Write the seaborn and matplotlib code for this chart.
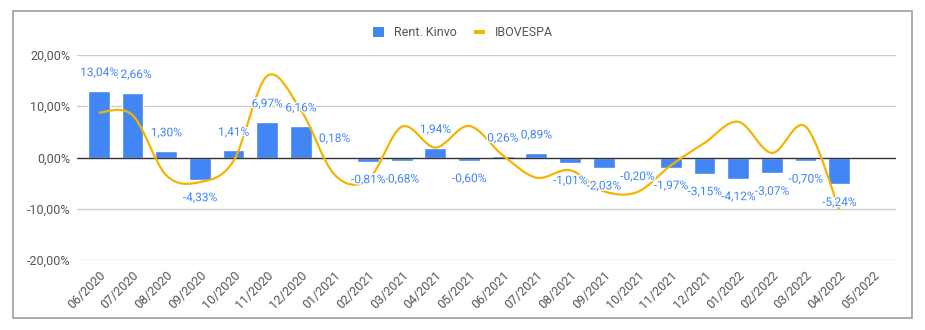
import numpy as np
import pandas as pd
import matplotlib
matplotlib.use("Agg")
import matplotlib.pyplot as plt
import seaborn as sns
from matplotlib.path import Path
from matplotlib.patches import PathPatch, Patch, Rectangle
from matplotlib.lines import Line2D
import matplotlib.patheffects as pe

months = ["06/2020", "07/2020", "08/2020", "09/2020", "10/2020", "11/2020", "12/2020",
          "01/2021", "02/2021", "03/2021", "04/2021", "05/2021", "06/2021", "07/2021",
          "08/2021", "09/2021", "10/2021", "11/2021", "12/2021", "01/2022", "02/2022",
          "03/2022", "04/2022", "05/2022"]
kinvo = [13.04, 12.66, 1.30, -4.33, 1.41, 6.97, 6.16, 0.18, -0.81, -0.68, 1.94, -0.60,
         0.26, 0.89, -1.01, -2.03, -0.20, -1.97, -3.15, -4.12, -3.07, -0.70, -5.24, np.nan]
ibovespa = [8.76, 8.27, -3.44, -4.80, -0.69, 15.90, 9.30, -3.32, -4.37, 6.00, 1.94, 6.16,
            0.46, -3.94, -2.48, -6.57, -6.74, -1.53, 2.85, 6.98, 0.89, 6.06, -10.10, np.nan]
y_ticks = [-20, -10, 0, 10, 20]

BLUE = "#4285F4"
YELLOW = "#F4B400"
GRAY_TXT = "#555555"

sns.set_theme(style="white")
plt.rcParams["font.family"] = ["Roboto", "DejaVu Sans"]

df = pd.DataFrame({"mes": months, "kinvo": kinvo, "ibov": ibovespa})

fig = plt.figure(figsize=(9.25, 3.3), dpi=100)
ax = fig.add_axes([77 / 925, 1 - 260 / 330, (896 - 77) / 925, (260 - 55) / 330])

sns.barplot(data=df, x="mes", y="kinvo", order=months, color=BLUE, saturation=1,
            width=0.65, ax=ax, zorder=2)

# smooth IBOVESPA curve through the monthly points (cubic Bezier, Catmull-Rom tangents)
pts = [(i, v) for i, v in enumerate(ibovespa) if not np.isnan(v)]
verts = [pts[0]]
codes = [Path.MOVETO]
n = len(pts)
for i in range(n - 1):
    p_prev = pts[max(i - 1, 0)]
    p0 = pts[i]
    p1 = pts[i + 1]
    p_next = pts[min(i + 2, n - 1)]
    c1 = (p0[0] + (p1[0] - p_prev[0]) / 6, p0[1] + (p1[1] - p_prev[1]) / 6)
    c2 = (p1[0] - (p_next[0] - p0[0]) / 6, p1[1] - (p_next[1] - p0[1]) / 6)
    verts += [c1, c2, p1]
    codes += [Path.CURVE4, Path.CURVE4, Path.CURVE4]
ax.add_patch(PathPatch(Path(verts, codes), fill=False, edgecolor=YELLOW, lw=1.6,
                       zorder=4, capstyle="butt"))

# value labels on the bars (earlier months drawn on top)
for i in reversed(range(len(months))):
    v = kinvo[i]
    if np.isnan(v):
        continue
    txt = f"{v:.2f}".replace(".", ",") + "%"
    off = 13 if v >= 0 else -13
    ax.annotate(txt, (i, v), xytext=(0, off), textcoords="offset points",
                ha="center", va="center", fontsize=8.6, color=BLUE, zorder=6,
                path_effects=[pe.withStroke(linewidth=2, foreground="white")])

ax.set_ylim(-20, 20)
ax.set_xlim(-0.65, 23.69)
ax.set_yticks(y_ticks)
ax.set_yticklabels([f"{t:.2f}".replace(".", ",") + "%" for t in y_ticks])
for t in y_ticks:
    if t != 0:
        ax.axhline(t, color="#cccccc", lw=1, zorder=0)
ax.axhline(0, color="#333333", lw=1, zorder=3)

ax.set_xlabel("")
ax.set_ylabel("")
ax.tick_params(axis="both", length=0, labelsize=9, colors=GRAY_TXT)
ax.tick_params(axis="y", pad=5)
ax.tick_params(axis="x", pad=6)
plt.setp(ax.get_xticklabels(), rotation=45, ha="right", rotation_mode="anchor")
for s in ax.spines.values():
    s.set_visible(False)

handles = [Patch(facecolor=BLUE, edgecolor="none", label="Rent. Kinvo"),
           Line2D([0], [0], color=YELLOW, lw=3, solid_capstyle="butt", label="IBOVESPA")]
fig.legend(handles=handles, loc="center", bbox_to_anchor=(463 / 925, 1 - 33 / 330),
           ncol=2, frameon=False, fontsize=9, labelcolor=GRAY_TXT,
           handlelength=0.9, handleheight=0.9, handletextpad=0.8, columnspacing=1.4)

fig.add_artist(Rectangle((13 / 925, 1 - 318 / 330), (912 - 13) / 925, (318 - 11) / 330,
                         transform=fig.transFigure, fill=False, edgecolor="#9e9e9e", lw=1.2))

fig.savefig("out.png", dpi=100, facecolor="white")
